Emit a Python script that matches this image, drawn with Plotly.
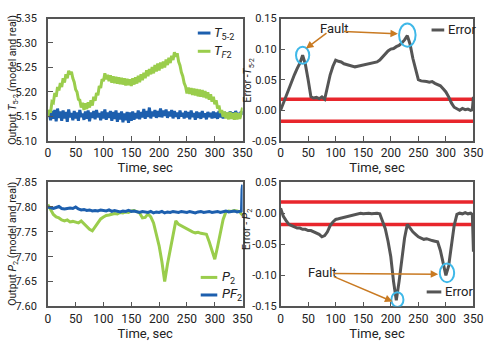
import plotly.graph_objects as go

# ---------------- data ----------------
t_fine = [i * 2.5 for i in range(141)]
T52 = [5.150, 5.158, 5.142, 5.161, 5.145, 5.163, 5.140, 5.166, 5.147, 5.160,
       5.141, 5.162, 5.146, 5.159, 5.139, 5.164, 5.148, 5.157, 5.142, 5.161,
       5.146, 5.158, 5.141, 5.163, 5.149, 5.156, 5.143, 5.160, 5.145, 5.162,
       5.140, 5.158, 5.147, 5.161, 5.144, 5.163, 5.148, 5.157, 5.142, 5.160,
       5.146, 5.164, 5.143, 5.158, 5.147, 5.161, 5.141, 5.159, 5.145, 5.162,
       5.139, 5.157, 5.144, 5.160, 5.138, 5.156, 5.142, 5.159, 5.137, 5.158,
       5.141, 5.160, 5.143, 5.157, 5.146, 5.162, 5.144, 5.159, 5.148, 5.165,
       5.145, 5.161, 5.149, 5.168, 5.146, 5.160, 5.150, 5.163, 5.147, 5.161,
       5.149, 5.166, 5.148, 5.162, 5.151, 5.164, 5.147, 5.160, 5.150, 5.163,
       5.146, 5.161, 5.149, 5.158, 5.145, 5.162, 5.150, 5.157, 5.146, 5.161,
       5.148, 5.159, 5.144, 5.162, 5.149, 5.157, 5.143, 5.160, 5.147, 5.158,
       5.145, 5.161, 5.148, 5.156, 5.144, 5.159, 5.149, 5.157, 5.146, 5.160,
       5.147, 5.158, 5.145, 5.161, 5.148, 5.156, 5.146, 5.159, 5.149, 5.157,
       5.147, 5.160, 5.150, 5.158, 5.148, 5.161, 5.151, 5.157, 5.149, 5.160,
       5.153]
TF2 = [5.150, 5.163, 5.158, 5.180, 5.178, 5.198, 5.190, 5.210, 5.203, 5.218,
       5.210, 5.228, 5.219, 5.236, 5.228, 5.243, 5.236, 5.241, 5.228, 5.220,
       5.205, 5.200, 5.185, 5.183, 5.168, 5.178, 5.163, 5.177, 5.165, 5.179,
       5.168, 5.183, 5.172, 5.190, 5.182, 5.198, 5.193, 5.212, 5.208, 5.226,
       5.222, 5.238, 5.226, 5.235, 5.222, 5.234, 5.219, 5.232, 5.218, 5.231,
       5.217, 5.230, 5.216, 5.229, 5.215, 5.228, 5.213, 5.227, 5.214, 5.226,
       5.212, 5.228, 5.215, 5.230, 5.217, 5.233, 5.220, 5.236, 5.224, 5.239,
       5.228, 5.244, 5.232, 5.247, 5.236, 5.251, 5.238, 5.255, 5.242, 5.258,
       5.244, 5.260, 5.248, 5.262, 5.250, 5.266, 5.255, 5.270, 5.259, 5.274,
       5.265, 5.281, 5.272, 5.279, 5.262, 5.254, 5.240, 5.232, 5.218, 5.211,
       5.197, 5.209, 5.196, 5.208, 5.194, 5.207, 5.193, 5.206, 5.191, 5.205,
       5.190, 5.204, 5.189, 5.202, 5.187, 5.199, 5.184, 5.195, 5.180, 5.190,
       5.175, 5.183, 5.166, 5.172, 5.157, 5.163, 5.149, 5.160, 5.146, 5.158,
       5.144, 5.159, 5.145, 5.157, 5.143, 5.158, 5.144, 5.156, 5.145, 5.160,
       5.168]

t_err1 = [0, 5, 10, 15, 20, 25, 30, 35, 40, 45, 50, 55, 60, 65, 70, 75, 80, 85, 90, 95,
          100, 105, 110, 115, 120, 125, 130, 135, 140, 145, 150, 155, 160, 165, 170, 175,
          180, 185, 190, 195, 200, 205, 210, 215, 220, 225, 230, 235, 240, 245, 250, 255,
          260, 265, 270, 275, 280, 285, 290, 295, 300, 305, 310, 315, 320, 325, 330, 335,
          340, 345, 348, 350]
ErrT = [0.000, 0.012, 0.025, 0.036, 0.048, 0.058, 0.068, 0.077, 0.090, 0.075,
        0.050, 0.022, 0.020, 0.021, 0.019, 0.022, 0.018, 0.040, 0.058, 0.072,
        0.082, 0.080, 0.079, 0.076, 0.075, 0.073, 0.072, 0.071, 0.072, 0.073,
        0.073, 0.074, 0.075, 0.076, 0.077, 0.079, 0.082, 0.087, 0.092, 0.097,
        0.100, 0.101, 0.104, 0.106, 0.110, 0.115, 0.122, 0.108, 0.085, 0.065,
        0.050, 0.048, 0.048, 0.047, 0.046, 0.047, 0.044, 0.042, 0.040, 0.035,
        0.030, 0.022, 0.012, 0.005, 0.002, 0.000, 0.003, 0.001, 0.002, 0.000,
        0.001, 0.022]

t_p = [0, 5, 10, 15, 20, 25, 30, 35, 40, 45, 50, 55, 60, 65, 70, 75, 80, 85, 90, 95,
       100, 105, 110, 115, 120, 125, 130, 135, 140, 145, 150, 155, 160, 165, 170, 175,
       180, 185, 190, 195, 200, 205, 210, 215, 220, 225, 230, 235, 240, 245, 250, 255,
       260, 265, 270, 275, 280, 285, 290, 295, 300, 305, 310, 315, 320, 325, 330, 335,
       340, 345, 350]
P2 = [7.805, 7.795, 7.785, 7.780, 7.778, 7.774, 7.772, 7.774, 7.770, 7.771,
      7.770, 7.768, 7.772, 7.766, 7.762, 7.755, 7.752, 7.760, 7.768, 7.776,
      7.780, 7.783, 7.784, 7.786, 7.787, 7.786, 7.789, 7.788, 7.790, 7.789,
      7.792, 7.793, 7.791, 7.788, 7.778, 7.779, 7.786, 7.780, 7.768, 7.745,
      7.722, 7.690, 7.650, 7.685, 7.715, 7.745, 7.772, 7.765, 7.762, 7.758,
      7.755, 7.752, 7.750, 7.748, 7.749, 7.747, 7.746, 7.745, 7.730, 7.712,
      7.695, 7.720, 7.750, 7.775, 7.790, 7.792, 7.791, 7.793, 7.792, 7.790,
      7.783]

t_pf = [0, 5, 10, 15, 20, 25, 30, 35, 40, 45, 50, 55, 60, 65, 70, 75, 80, 85, 90, 95,
        100, 105, 110, 115, 120, 125, 130, 135, 140, 145, 150, 155, 160, 165, 170, 175,
        180, 185, 190, 195, 200, 205, 210, 215, 220, 225, 230, 235, 240, 245, 250, 255,
        260, 265, 270, 275, 280, 285, 290, 295, 300, 305, 310, 315, 320, 325, 330, 335,
        340, 345, 348, 349, 350]
PF2 = [7.800, 7.798, 7.797, 7.799, 7.801, 7.797, 7.796, 7.797, 7.798, 7.797,
       7.800, 7.796, 7.794, 7.795, 7.793, 7.794, 7.792, 7.793, 7.792, 7.794,
       7.793, 7.792, 7.794, 7.791, 7.793, 7.792, 7.790, 7.792, 7.791, 7.793,
       7.791, 7.792, 7.790, 7.789, 7.791, 7.790, 7.789, 7.791, 7.788, 7.790,
       7.789, 7.791, 7.788, 7.790, 7.789, 7.791, 7.790, 7.789, 7.791, 7.790,
       7.789, 7.791, 7.790, 7.788, 7.790, 7.791, 7.789, 7.790, 7.791, 7.789,
       7.790, 7.791, 7.789, 7.791, 7.792, 7.790, 7.791, 7.792, 7.790, 7.791,
       7.792, 7.835, 7.845]

t_err2 = [0, 5, 10, 15, 20, 25, 30, 35, 40, 45, 50, 55, 60, 65, 70, 75, 80, 85, 90, 95,
          100, 105, 110, 115, 120, 125, 130, 135, 140, 145, 150, 155, 160, 165, 170, 175,
          180, 185, 190, 195, 200, 205, 210, 215, 220, 225, 230, 235, 240, 245, 250, 255,
          260, 265, 270, 275, 280, 285, 290, 295, 300, 305, 310, 315, 320, 325, 330, 335,
          340, 345, 348, 350]
ErrP = [0.008, -0.005, -0.012, -0.018, -0.020, -0.022, -0.024, -0.024, -0.026, -0.026,
        -0.028, -0.028, -0.030, -0.031, -0.034, -0.038, -0.036, -0.030, -0.020, -0.014,
        -0.010, -0.009, -0.008, -0.006, -0.005, -0.004, -0.003, -0.002, -0.001, 0.000,
        -0.001, 0.000, 0.000, -0.001, 0.000, 0.000, -0.001, -0.012, -0.025, -0.045,
        -0.070, -0.110, -0.140, -0.110, -0.075, -0.040, -0.018, -0.025, -0.030, -0.034,
        -0.038, -0.040, -0.042, -0.041, -0.043, -0.044, -0.045, -0.046, -0.060, -0.080,
        -0.100, -0.085, -0.055, -0.020, -0.002, 0.000, -0.001, 0.001, -0.001, 0.000,
        -0.002, -0.062]

threshold = [0.018, -0.018]
x_ticks = [0, 50, 100, 150, 200, 250, 300, 350]
y1_ticks = [5.10, 5.15, 5.20, 5.25, 5.30, 5.35]
y2_ticks = [-0.05, 0.00, 0.05, 0.10, 0.15]
y3_ticks = [7.60, 7.65, 7.70, 7.75, 7.80, 7.85]
y4_ticks = [-0.15, -0.10, -0.05, 0.00, 0.05]

# ---------------- styles ----------------
FONT = "Roboto, Liberation Sans, sans-serif"
BLUE = "#1d5fae"
GREEN = "#9acd4c"
GRAY = "#555555"
RED = "#e8262c"
CYAN = "#3fb8e8"
ORANGE = "#c97a22"
AX = "#555555"
TXT = "#222222"

fig = go.Figure()

fig.add_trace(go.Scatter(x=t_fine, y=T52, mode="lines", name="<i>T</i><sub>5-2</sub>",
                         line=dict(color=BLUE, width=3), xaxis="x", yaxis="y", showlegend=False))
fig.add_trace(go.Scatter(x=t_fine, y=TF2, mode="lines", name="<i>T</i><sub><i>F</i>2</sub>",
                         line=dict(color=GREEN, width=3), xaxis="x", yaxis="y", showlegend=False))

for th in threshold:
    fig.add_trace(go.Scatter(x=[0, 350], y=[th, th], mode="lines", showlegend=False,
                             line=dict(color=RED, width=3.5), xaxis="x2", yaxis="y2"))
fig.add_trace(go.Scatter(x=t_err1, y=ErrT, mode="lines", name="Error", showlegend=False,
                         line=dict(color=GRAY, width=3), xaxis="x2", yaxis="y2"))

fig.add_trace(go.Scatter(x=t_p, y=P2, mode="lines", name="<i>P</i><sub>2</sub>", showlegend=False,
                         line=dict(color=GREEN, width=3), xaxis="x3", yaxis="y3"))
fig.add_trace(go.Scatter(x=t_pf, y=PF2, mode="lines", name="<i>PF</i><sub>2</sub>", showlegend=False,
                         line=dict(color=BLUE, width=3), xaxis="x3", yaxis="y3"))

for th in threshold:
    fig.add_trace(go.Scatter(x=[0, 350], y=[th, th], mode="lines", showlegend=False,
                             line=dict(color=RED, width=3.5), xaxis="x4", yaxis="y4"))
fig.add_trace(go.Scatter(x=t_err2, y=ErrP, mode="lines", name="Error", showlegend=False,
                         line=dict(color=GRAY, width=3), xaxis="x4", yaxis="y4"))


def xax(domain, anchor):
    return dict(domain=domain, anchor=anchor, range=[0, 350], tickvals=x_ticks,
                ticks="inside", ticklen=5, tickcolor=AX, showline=True, linecolor=AX,
                linewidth=1.5, mirror=True, showgrid=False, zeroline=False,
                title=dict(text="Time, sec", standoff=3, font=dict(size=13, color=TXT)),
                tickfont=dict(size=12, color=TXT))


def yax(domain, anchor, rng, ticks, standoff):
    return dict(domain=domain, anchor=anchor, range=rng, tickvals=ticks,
                ticktext=["%.2f" % v for v in ticks],
                ticks="inside", ticklen=5, tickcolor=AX, showline=True, linecolor=AX,
                linewidth=1.5, mirror=True, showgrid=False, zeroline=False,
                ticklabelstandoff=standoff,
                tickfont=dict(size=11, color=TXT))


LX = [0.092, 0.492]
RX = [0.570, 0.966]
TY = [0.601, 0.963]
BY = [0.111, 0.479]

fig.update_layout(
    width=500, height=351, margin=dict(l=0, r=0, t=0, b=0),
    paper_bgcolor="white", plot_bgcolor="white", showlegend=False,
    font=dict(family=FONT, color=TXT, size=12),
    xaxis=xax(LX, "y"),
    yaxis=yax(TY, "x", [5.10, 5.35], y1_ticks, 7),
    xaxis2=xax(RX, "y2"),
    yaxis2=yax(TY, "x2", [-0.05, 0.15], y2_ticks, 0),
    xaxis3=xax(LX, "y3"),
    yaxis3=yax(BY, "x3", [7.60, 7.85], y3_ticks, 7),
    xaxis4=xax(RX, "y4"),
    yaxis4=yax(BY, "x4", [-0.15, 0.05], y4_ticks, 0),
)

# y-axis titles (rotated text placed beside each panel)
y_titles = [
    (0.020, 0.781, "Output <i>T</i><sub>5-2</sub> (model and real)"),
    (0.504, 0.781, "Error -<i>T</i><sub>5-2</sub>"),
    (0.020, 0.296, "Output <i>P</i><sub>2</sub> (model and real)"),
    (0.502, 0.339, "Error - <i>P</i><sub>2</sub>"),
]
for x, y, txt in y_titles:
    fig.add_annotation(x=x, y=y, xref="paper", yref="paper", text=txt, textangle=-90,
                       showarrow=False, xanchor="center", yanchor="middle",
                       font=dict(size=10.5, color=TXT))

# manual legends: (line x0, line x1, y, text x, color, label) in paper coordinates
legend_items = [
    (0.400, 0.426, 0.920, 0.430, BLUE, "<i>T</i><sub>5-2</sub>"),
    (0.400, 0.426, 0.866, 0.430, GREEN, "<i>T</i><sub><i>F</i>2</sub>"),
    (0.880, 0.906, 0.929, 0.910, GRAY, "Error"),
    (0.406, 0.440, 0.197, 0.446, GREEN, "<i>P</i><sub>2</sub>"),
    (0.406, 0.440, 0.145, 0.446, BLUE, "<i>PF</i><sub>2</sub>"),
    (0.870, 0.900, 0.154, 0.904, GRAY, "Error"),
]
for x0, x1, y, tx, col, lab in legend_items:
    fig.add_shape(type="line", xref="paper", yref="paper", x0=x0, x1=x1, y0=y, y1=y,
                  line=dict(color=col, width=3))
    fig.add_annotation(x=tx, y=y, xref="paper", yref="paper", text=lab, showarrow=False,
                       xanchor="left", yanchor="middle", font=dict(size=13, color=TXT))

# fault circles
circles = [("x2", "y2", 28, 52, 0.076, 0.104), ("x2", "y2", 215, 245, 0.104, 0.142),
           ("x4", "y4", 201, 223, -0.151, -0.127), ("x4", "y4", 289, 315, -0.111, -0.081)]
for xr, yr, x0, x1, y0, y1 in circles:
    fig.add_shape(type="circle", xref=xr, yref=yr, x0=x0, x1=x1, y0=y0, y1=y1,
                  line=dict(color=CYAN, width=2))

# Fault labels + arrows
fig.add_annotation(x=97, y=0.134, xref="x2", yref="y2", text="Fault", showarrow=False,
                   font=dict(size=13, color=TXT))
fig.add_annotation(x=46, y=0.101, ax=86, ay=0.128, xref="x2", yref="y2", axref="x2", ayref="y2",
                   text="", showarrow=True, arrowhead=2, arrowsize=1, arrowwidth=1.5,
                   arrowcolor=ORANGE)
fig.add_annotation(x=213, y=0.125, ax=112, ay=0.129, xref="x2", yref="y2", axref="x2", ayref="y2",
                   text="", showarrow=True, arrowhead=2, arrowsize=1, arrowwidth=1.5,
                   arrowcolor=ORANGE)

fig.add_annotation(x=76, y=-0.095, xref="x4", yref="y4", text="Fault", showarrow=False,
                   font=dict(size=13, color=TXT))
fig.add_annotation(x=286, y=-0.098, ax=94, ay=-0.097, xref="x4", yref="y4", axref="x4", ayref="y4",
                   text="", showarrow=True, arrowhead=2, arrowsize=1, arrowwidth=1.5,
                   arrowcolor=ORANGE)
fig.add_annotation(x=203, y=-0.142, ax=94, ay=-0.101, xref="x4", yref="y4", axref="x4", ayref="y4",
                   text="", showarrow=True, arrowhead=2, arrowsize=1, arrowwidth=1.5,
                   arrowcolor=ORANGE)

fig.write_html("out.html")
